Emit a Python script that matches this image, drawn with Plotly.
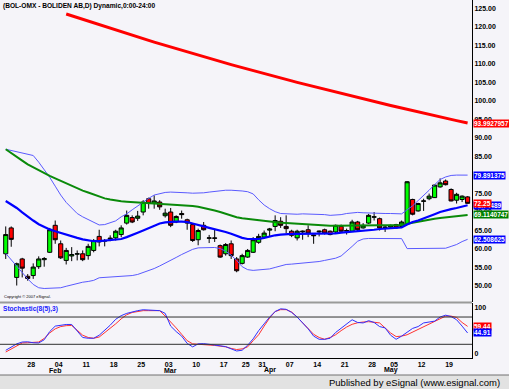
import plotly.graph_objects as go
import pandas as pd

# ---------------- data ----------------
holidays = ["2008-03-21", "2008-03-24", "2008-03-28", "2008-05-01"]
dates = [d.strftime("%Y-%m-%d") for d in pd.bdate_range("2008-01-21", "2008-05-22")
         if d.strftime("%Y-%m-%d") not in holidays]

opens = [58.6, 65.6, 52.2, 57.2, 52.5, 52.7, 55.1, 57.0, 59.0, 66.3,
         61.3, 56.8, 58.0, 58.5, 58.6, 58.1, 59.5, 63.3, 62.0, 62.6,
         62.9, 63.8, 66.9, 68.4, 68.2, 69.9, 73.5, 72.2, 72.6, 68.9,
         69.9, 67.2, 69.5, 67.8, 66.5, 62.4, 66.3, 62.8, 62.9, 60.8,
         58.6, 61.3, 57.2, 56.0, 57.7, 59.0, 61.7, 63.1, 65.0, 66.0,
         67.4, 66.0, 64.7, 62.9, 64.5, 65.1, 63.7, 64.5, 65.1, 64.7,
         64.5, 66.0, 64.7, 64.7, 67.2, 65.6, 66.9, 68.5, 68.1, 65.7,
         65.8, 66.5, 66.0, 66.7, 73.3, 70.2, 72.8, 73.5, 73.8, 76.7,
         78.3, 76.0, 73.1, 73.3, 74.0]
highs = [66.0, 66.0, 56.2, 57.5, 53.1, 56.0, 57.9, 57.7, 65.6, 67.6,
         62.2, 60.2, 60.4, 59.5, 59.5, 61.3, 62.6, 65.1, 62.6, 63.6,
         65.1, 66.3, 70.3, 69.0, 70.2, 73.1, 73.8, 74.4, 73.1, 70.8,
         71.0, 69.0, 70.3, 68.1, 66.7, 65.4, 67.2, 63.7, 65.1, 61.1,
         61.5, 62.2, 57.7, 58.6, 59.9, 63.1, 64.0, 64.9, 65.6, 69.0,
         68.5, 69.0, 65.1, 65.1, 64.9, 66.3, 63.8, 64.9, 65.4, 64.9,
         66.5, 66.5, 65.4, 67.8, 67.5, 66.9, 69.4, 69.9, 68.4, 66.3,
         66.5, 66.7, 67.6, 78.3, 73.5, 72.4, 73.5, 74.9, 77.3, 79.0,
         78.7, 76.3, 75.1, 74.4, 74.2]
lows = [57.2, 60.5, 50.0, 52.2, 51.3, 51.8, 54.5, 55.1, 58.8, 61.3,
        57.2, 55.7, 56.6, 56.8, 56.6, 57.0, 59.0, 60.6, 60.6, 62.0,
        62.2, 63.1, 66.5, 66.9, 67.5, 69.0, 70.8, 70.8, 70.5, 68.4,
        65.8, 66.9, 68.1, 65.1, 61.8, 60.9, 64.9, 61.5, 61.8, 57.5,
        58.1, 57.2, 53.6, 55.7, 57.5, 58.8, 61.3, 62.7, 63.3, 64.7,
        65.6, 64.2, 63.1, 62.2, 62.4, 63.1, 61.3, 63.3, 63.8, 63.6,
        64.2, 64.5, 63.8, 64.5, 64.7, 65.4, 66.7, 67.6, 64.9, 64.5,
        65.5, 65.4, 65.6, 66.5, 69.0, 70.0, 70.2, 73.1, 73.7, 76.5,
        77.1, 72.8, 72.2, 72.6, 72.2]
closes = [63.8, 62.5, 55.9, 54.7, 51.9, 55.0, 57.2, 57.3, 65.1, 62.4,
          57.5, 59.5, 58.4, 58.6, 57.0, 60.6, 62.2, 61.8, 62.2, 62.8,
          64.7, 65.6, 69.0, 67.2, 68.8, 72.6, 72.2, 72.9, 71.3, 69.6,
          66.3, 68.7, 69.2, 66.9, 62.2, 64.9, 65.1, 62.9, 62.8, 57.7,
          61.1, 58.1, 54.0, 58.1, 59.5, 62.4, 63.3, 64.2, 65.3, 67.6,
          66.3, 65.4, 63.6, 64.7, 64.7, 64.2, 63.5, 64.7, 64.2, 63.8,
          66.3, 64.7, 64.9, 67.2, 65.1, 66.3, 69.0, 68.6, 65.6, 65.8,
          66.3, 65.6, 67.2, 78.1, 69.3, 72.2, 72.9, 74.2, 77.2, 77.8,
          77.3, 72.9, 74.7, 74.2, 72.25]

# 200-day MA (red), starts at bar 11
ma_long = [None] * 11 + [
    123.51, 123.02, 122.52, 122.03, 121.54, 121.06, 120.58, 120.10, 119.62, 119.15,
    118.68, 118.21, 117.74, 117.28, 116.82, 116.36, 115.90, 115.45, 115.00, 114.55,
    114.11, 113.67, 113.23, 112.79, 112.36, 111.93, 111.50, 111.07, 110.65, 110.23,
    109.81, 109.40, 108.98, 108.57, 108.17, 107.76, 107.36, 106.96, 106.57, 106.17,
    105.78, 105.40, 105.01, 104.63, 104.25, 103.87, 103.50, 103.13, 102.76, 102.39,
    102.03, 101.67, 101.31, 100.95, 100.58, 100.21, 99.84, 99.48, 99.12, 98.76,
    98.40, 98.04, 97.69, 97.35, 97.00, 96.66, 96.32, 95.98, 95.64, 95.31,
    94.98, 94.65, 94.33, 93.9927957]

# 50-day MA (green)
ma_mid = [86.9, 85.8, 84.8, 83.8, 82.8, 82.0, 81.1, 80.4, 79.7, 79.0,
          78.3, 77.6, 77.0, 76.3, 75.7, 75.2, 74.6, 74.1, 73.6, 73.3,
          73.0, 72.8, 72.7, 72.6, 72.5, 72.4, 72.3, 72.3, 72.2, 72.2,
          72.1, 72.0, 71.9, 71.7, 71.5, 71.3, 71.0, 70.7, 70.3, 69.9,
          69.4, 69.0, 68.5, 68.2, 68.0, 67.8, 67.7, 67.6, 67.4, 67.2,
          67.0, 66.9, 66.8, 66.6, 66.5, 66.4, 66.4, 66.3, 66.3, 66.2,
          66.2, 66.2, 66.2, 66.2, 66.3, 66.3, 66.3, 66.3, 66.2, 66.2,
          66.2, 66.3, 66.4, 66.7, 67.0, 67.4, 67.7, 67.9, 68.1, 68.3,
          68.5, 68.7, 68.9, 69.0, 69.1140747]

# 20-day MA (thick blue)
ma_short = [72.9, 72.0, 71.0, 69.8, 68.6, 67.6, 66.6, 65.8, 65.2, 64.7,
            64.2, 63.7, 63.3, 62.9, 62.5, 62.2, 62.0, 62.0, 62.1, 62.2,
            62.4, 62.6, 63.1, 63.6, 64.3, 64.9, 65.6, 66.2, 66.8, 67.1,
            67.3, 67.3, 67.3, 67.2, 66.8, 66.3, 66.0, 65.6, 65.3, 64.9,
            64.5, 64.0, 63.4, 62.9, 62.6, 62.5, 62.6, 62.9, 63.3, 63.6,
            63.8, 64.0, 64.0, 64.0, 64.0, 64.0, 64.0, 64.0, 64.0, 64.0,
            64.1, 64.3, 64.4, 64.5, 64.6, 64.8, 64.9, 65.1, 65.3, 65.4,
            65.5, 65.6, 65.7, 66.5, 67.2, 67.6, 68.1, 68.7, 69.3, 69.9,
            70.4, 70.7, 71.0, 71.3, 71.74489]

# Bollinger bands (thin blue)
bb_upper = [86.9, 86.6, 86.3, 86.0, 85.7, 85.2, 83.4, 81.4, 79.3, 76.9,
            74.5, 72.5, 70.9, 69.5, 68.6, 67.8, 67.0, 66.4, 66.5, 66.9,
            67.5, 68.6, 69.4, 70.5, 71.6, 72.5, 73.6, 74.5, 74.9, 75.2,
            75.3, 75.3, 75.2, 75.1, 75.0, 75.0, 75.1, 75.3, 75.5, 75.7,
            75.8, 75.8, 75.8, 75.6, 75.4, 74.8, 73.2, 71.8, 70.8, 70.0,
            69.5, 69.4, 69.3, 69.3, 69.4, 69.4, 69.3, 69.4, 69.2, 69.0,
            69.0, 69.2, 69.5, 69.7, 69.8, 69.7, 69.6, 69.6, 69.5, 69.5,
            69.5, 69.4, 69.4, 70.5, 71.6, 73.0, 74.3, 75.8, 77.3, 78.7,
            79.4, 79.8, 79.9, 79.9, 79.891375]
bb_lower = [58.7, 56.9, 55.3, 53.6, 51.8, 50.3, 49.4, 49.2, 49.2, 49.2,
            49.4, 49.8, 50.2, 50.6, 50.9, 51.1, 51.4, 52.1, 52.2, 52.3,
            52.4, 52.4, 52.5, 52.7, 53.0, 53.5, 54.0, 54.6, 55.3, 56.0,
            56.7, 57.6, 58.4, 59.2, 59.8, 60.2, 60.3, 60.3, 60.3, 60.0,
            59.3, 58.2, 56.8, 55.1, 54.3, 54.1, 54.2, 54.4, 54.5, 54.9,
            55.3, 55.7, 55.8, 55.9, 56.0, 56.1, 56.3, 56.5, 56.8, 57.1,
            57.4, 58.0, 59.2, 60.6, 62.0, 62.6, 62.75, 62.75, 62.8, 62.8,
            62.8, 62.75, 62.7, 60.0, 60.0, 60.0, 60.0, 60.0, 60.0, 60.0,
            60.1, 60.6, 61.1, 61.9, 62.508625]

# Stochastic(8(5),3)
stoch_k = [6.8, 14, 21, 25, 25.5, 23.5, 23, 30, 48, 60,
           62.5, 63.6, 63.6, 50, 35, 33.3, 33.3, 40, 50, 62,
           75, 83, 88, 91.5, 94, 96, 95, 94, 94, 88,
           60, 48, 38, 22, 14.4, 21, 21.5, 20, 18.5, 17,
           15, 10, 5.3, 7, 18, 32, 50, 65, 80, 92,
           98, 97, 90, 80, 68, 54, 38, 31, 31, 33.3,
           46, 56, 64, 74, 68, 67, 72, 68, 59, 56,
           40, 31, 38, 47, 55, 59, 67, 69, 71, 80,
           84, 81, 74, 60, 44.91]
stoch_d = [3, 10, 17, 23, 23.5, 23.5, 25, 33, 45, 54,
           59, 61, 61.4, 51, 40, 35, 33.3, 36, 45, 54,
           65, 76, 85, 90, 92.5, 94, 94, 94, 94, 82,
           70, 56, 42, 28, 21, 20.5, 19.5, 18.5, 17.5, 16,
           14.4, 11, 8.5, 10, 14.4, 28, 41, 60, 78, 92,
           96.2, 96.2, 91, 80, 68, 55, 42, 35, 31, 35,
           41, 50, 58, 64, 67.4, 69, 69.7, 68.5, 67, 56,
           45, 37, 38, 41, 47, 52.3, 58, 63.6, 70, 77,
           82, 82, 79, 68, 59.44]
stoch_levels = [20, 80]

tick_dates = ["2008-01-28", "2008-02-04", "2008-02-11", "2008-02-18", "2008-02-25",
              "2008-03-03", "2008-03-10", "2008-03-17", "2008-03-25", "2008-03-31",
              "2008-04-07", "2008-04-14", "2008-04-21", "2008-04-28", "2008-05-05",
              "2008-05-12", "2008-05-19"]
tick_text = ["28", "04", "11", "18", "25", "03", "10", "17", "25", "31",
             "07", "14", "21", "28", "05", "12", "19"]
month_dates = ["2008-02-01", "2008-03-03", "2008-04-01", "2008-05-02"]
month_text = ["Feb", "Mar", "Apr", "May"]
price_ticks = [50, 55, 60, 65, 70, 75, 80, 85, 90, 95, 100, 105, 110, 115, 120, 125]

title_text = "(BOL-OMX - BOLIDEN AB,D) Dynamic,0:00-24:00"
stoch_title = "Stochastic(8(5),3)"
copyright_text = "Copyright © 2007 eSignal."
footer_text = "Published by eSignal (www.esignal.com)"

# ---------------- figure ----------------
x = list(range(len(dates)))
FONT = "Liberation Sans"

fig = go.Figure()
fig.add_trace(go.Scatter(x=x, y=bb_upper, mode="lines", line=dict(color="#5a5aff", width=1), xaxis="x", yaxis="y"))
fig.add_trace(go.Scatter(x=x, y=bb_lower, mode="lines", line=dict(color="#5a5aff", width=1), xaxis="x", yaxis="y"))
fig.add_trace(go.Scatter(x=x, y=ma_mid, mode="lines", line=dict(color="#0a8a0a", width=2), xaxis="x", yaxis="y"))
fig.add_trace(go.Scatter(x=x, y=ma_short, mode="lines", line=dict(color="#0000ff", width=2.2), xaxis="x", yaxis="y"))
fig.add_trace(go.Scatter(x=x, y=ma_long, mode="lines", line=dict(color="#ff0000", width=3), xaxis="x", yaxis="y"))
fig.add_trace(go.Candlestick(
    x=x, open=opens, high=highs, low=lows, close=closes, xaxis="x", yaxis="y",
    increasing=dict(line=dict(color="#000000", width=1), fillcolor="#00ff00"),
    decreasing=dict(line=dict(color="#000000", width=1), fillcolor="#ff0000"),
    whiskerwidth=0))
fig.add_trace(go.Scatter(x=x, y=stoch_d, mode="lines", line=dict(color="#ff3030", width=1), xaxis="x2", yaxis="y2"))
fig.add_trace(go.Scatter(x=x, y=stoch_k, mode="lines", line=dict(color="#3030ff", width=1), xaxis="x2", yaxis="y2"))

xr = [-1.04, 84.8]
axfont = dict(family=FONT, size=7, color="black", weight="bold")
fig.update_layout(
    width=509, height=389, showlegend=False,
    margin=dict(l=0, r=37, t=0, b=31, pad=0, autoexpand=False),
    boxgap=0.25, boxgroupgap=0.0,
    paper_bgcolor="#f5f4f9", plot_bgcolor="#f5f4f9",
    xaxis=dict(domain=[0, 1], anchor="y", range=xr, showticklabels=False, showgrid=False,
               zeroline=False, rangeslider=dict(visible=False), automargin=False),
    xaxis2=dict(domain=[0, 1], anchor="y2", range=xr, matches="x", showgrid=False, zeroline=False,
                tickvals=[dates.index(d) for d in tick_dates], ticktext=tick_text,
                tickfont=axfont, ticks="", showline=True, linecolor="black", linewidth=1,
                ticklabelshift=-2, automargin=False),
    yaxis=dict(domain=[0.1564, 1], anchor="x", side="right", range=[45.54, 127.3],
               tickvals=price_ticks, tickformat=".2f", tickfont=axfont, showgrid=False,
               zeroline=False, showline=True, linecolor="black", linewidth=1, ticks="",
               automargin=False),
    yaxis2=dict(domain=[0, 0.1536], anchor="x2", side="right", range=[-10.1, 110.8],
                tickvals=[0, 100], ticktext=["0", "100"], tickfont=axfont, showgrid=False,
                zeroline=False, showline=True, linecolor="black", linewidth=1, ticks="",
                automargin=False),
)

shapes = []
for lv in stoch_levels:
    shapes.append(dict(type="line", xref="x2 domain", yref="y2", x0=0, x1=1, y0=lv, y1=lv,
                       line=dict(color="#303030", width=1)))
# panel separator
shapes.append(dict(type="line", xref="paper", yref="paper", x0=0, x1=1, y0=0.155, y1=0.155,
                   line=dict(color="#9a9a9a", width=2)))
# bottom status strip
shapes.append(dict(type="rect", xref="paper", yref="paper", x0=-0.01, x1=1.09, y0=-0.09, y1=-0.0475,
                   fillcolor="#e2e2e2", line=dict(width=0)))
shapes.append(dict(type="line", xref="paper", yref="paper", x0=-0.01, x1=1.09, y0=-0.0475, y1=-0.0475,
                   line=dict(color="#707070", width=1)))
fig.update_layout(shapes=shapes)

ann = []
ann.append(dict(text=title_text, xref="paper", yref="paper", x=0.002, y=0.983, xanchor="left",
                yanchor="middle", showarrow=False, font=dict(family=FONT, size=6.6, color="black", weight="bold")))
ann.append(dict(text=copyright_text, xref="paper", yref="paper", x=0.004, y=0.171, xanchor="left",
                yanchor="middle", showarrow=False, font=dict(family=FONT, size=4, color="black")))
ann.append(dict(text=stoch_title, xref="paper", yref="paper", x=0.002, y=0.137, xanchor="left",
                yanchor="middle", showarrow=False, font=dict(family=FONT, size=6.6, color="#2020ff", weight="bold")))
ann.append(dict(text=footer_text, xref="paper", yref="paper", x=502 / 472, y=-0.068, xanchor="right",
                yanchor="middle", showarrow=False, font=dict(family=FONT, size=9.5, color="black")))
for d, t in zip(month_dates, month_text):
    ann.append(dict(text=t, xref="x2", yref="paper", x=dates.index(d), y=-0.034, xanchor="center",
                    yanchor="middle", showarrow=False, font=axfont))

# last-value boxes on the right axis
def tag(val, color, yref):
    return dict(text=str(val), xref="paper", yref=yref, x=1, y=val, xanchor="left", xshift=1,
                yanchor="middle", showarrow=False, bgcolor=color, borderpad=0,
                font=dict(family=FONT, size=6.5, color="white", weight="bold"))

ann.append(tag(ma_long[-1], "#ff0000", "y"))
ann.append(tag(bb_upper[-1], "#0000ff", "y"))
ann.append(tag(ma_short[-1], "#0000ff", "y"))
ann.append(tag(closes[-1], "#ff0000", "y"))
ann.append(tag(ma_mid[-1], "#008000", "y"))
ann.append(tag(bb_lower[-1], "#0000ff", "y"))
ann.append(tag(stoch_d[-1], "#ff0000", "y2"))
ann.append(tag(stoch_k[-1], "#0000ff", "y2"))
fig.update_layout(annotations=ann)

fig.write_html("out.html", config={"displayModeBar": False},
               post_script="document.body.style.margin='0';document.body.style.overflow='hidden';")
